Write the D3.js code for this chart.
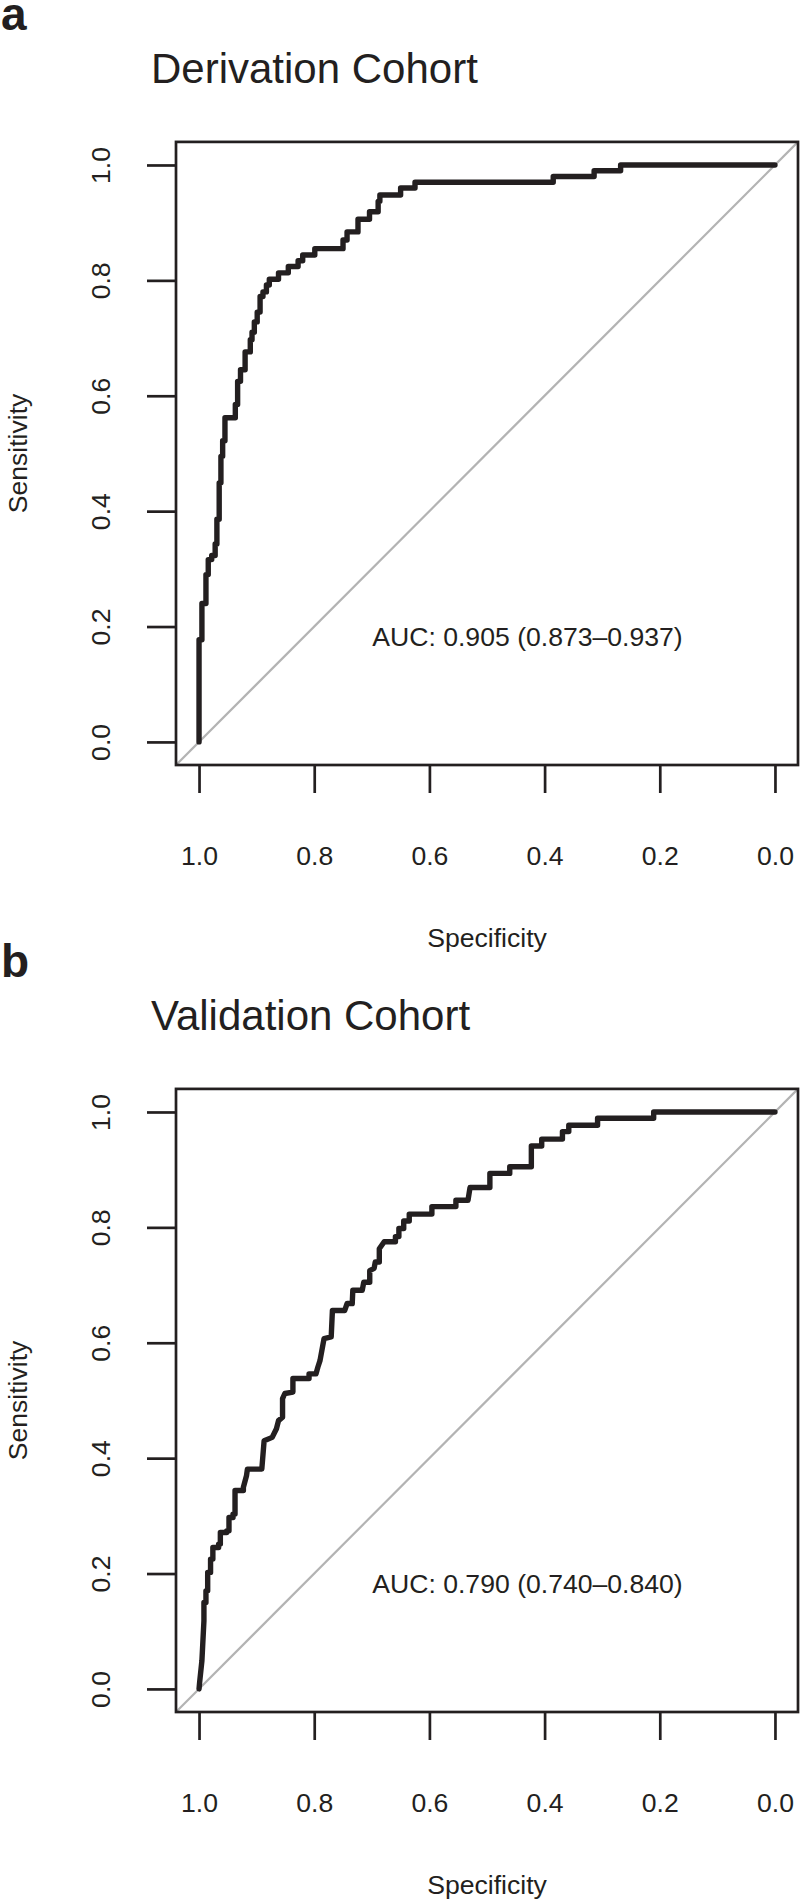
<!DOCTYPE html>
<html>
<head>
<meta charset="utf-8">
<script src="https://cdn.jsdelivr.net/npm/d3@7"></script>
<style>
  html, body { margin: 0; padding: 0; background: #fff; }
  svg { display: block; }
</style>
</head>
<body>
<script>
// ---------- data ----------
const derivationSpec = [1.000,1.000,0.995,0.995,0.988,0.988,0.984,0.984,0.978,0.978,0.972,0.972,0.969,0.969,0.965,0.965,0.962,0.962,0.959,0.959,0.955,0.955,0.937,0.937,0.933,0.933,0.928,0.928,0.920,0.920,0.911,0.911,0.908,0.908,0.904,0.904,0.899,0.899,0.894,0.894,0.889,0.889,0.883,0.883,0.878,0.878,0.862,0.862,0.845,0.845,0.828,0.828,0.820,0.820,0.799,0.799,0.750,0.750,0.743,0.743,0.724,0.724,0.704,0.704,0.689,0.689,0.686,0.686,0.650,0.650,0.625,0.625,0.385,0.385,0.314,0.314,0.268,0.268,0.000];
const derivationSens = [0.000,0.177,0.177,0.240,0.240,0.290,0.290,0.316,0.316,0.323,0.323,0.343,0.343,0.386,0.386,0.449,0.449,0.495,0.495,0.522,0.522,0.562,0.562,0.585,0.585,0.625,0.625,0.645,0.645,0.676,0.676,0.697,0.697,0.710,0.710,0.728,0.728,0.745,0.745,0.772,0.772,0.780,0.780,0.792,0.792,0.802,0.802,0.813,0.813,0.824,0.824,0.834,0.834,0.844,0.844,0.855,0.855,0.870,0.870,0.884,0.884,0.906,0.906,0.919,0.919,0.937,0.937,0.948,0.948,0.960,0.960,0.970,0.970,0.980,0.980,0.990,0.990,1.000,1.000];

const validationSpec = [1.000,0.999,0.995,0.9915,0.9915,0.988,0.988,0.985,0.985,0.980,0.980,0.976,0.976,0.9735,0.966,0.966,0.963,0.963,0.952,0.952,0.948,0.948,0.941,0.941,0.9375,0.9375,0.923,0.923,0.9175,0.916,0.891,0.887,0.873,0.8656,0.862,0.855,0.855,0.851,0.837,0.837,0.809,0.809,0.797,0.7936,0.790,0.783,0.7705,0.7684,0.747,0.743,0.734,0.733,0.7166,0.714,0.7036,0.7036,0.696,0.694,0.687,0.687,0.6785,0.659,0.659,0.653,0.653,0.6446,0.6446,0.635,0.635,0.5957,0.5957,0.554,0.554,0.533,0.5295,0.495,0.495,0.4605,0.4605,0.423,0.423,0.405,0.405,0.369,0.369,0.358,0.358,0.308,0.308,0.2106,0.2106,0.000];
const validationSens = [0.000,0.011,0.049,0.118,0.150,0.150,0.170,0.170,0.202,0.202,0.225,0.225,0.245,0.245,0.245,0.251,0.251,0.271,0.271,0.274,0.274,0.297,0.297,0.303,0.303,0.344,0.344,0.3495,0.370,0.381,0.381,0.430,0.436,0.451,0.465,0.471,0.503,0.512,0.5145,0.538,0.538,0.546,0.546,0.558,0.569,0.607,0.610,0.656,0.656,0.668,0.668,0.691,0.691,0.705,0.705,0.725,0.729,0.740,0.740,0.763,0.775,0.775,0.784,0.784,0.798,0.798,0.811,0.811,0.823,0.823,0.836,0.836,0.847,0.847,0.869,0.869,0.8935,0.8935,0.905,0.905,0.941,0.941,0.953,0.953,0.966,0.966,0.977,0.977,0.989,0.989,1.000,1.000];

const panelLetters = ["a", "b"];
const panelTitles = ["Derivation Cohort", "Validation Cohort"];
const aucLabels = ["AUC: 0.905 (0.873\u20130.937)", "AUC: 0.790 (0.740\u20130.840)"];
const xTickValues = [1.0, 0.8, 0.6, 0.4, 0.2, 0.0];
const yTickValues = [0.0, 0.2, 0.4, 0.6, 0.8, 1.0];
const xAxisTitle = "Specificity";
const yAxisTitle = "Sensitivity";

// ---------- layout / style ----------
const W = 800, H = 1899;
const FONT = "'Liberation Sans', Arial, Helvetica, sans-serif";
const INK = "#231f20";
const panelOffsets = [0, 947];
const box = { left: 176, right: 798, top: 141.9, bottom: 765 };

const svg = d3.select("body").append("svg")
  .attr("width", W).attr("height", H)
  .attr("viewBox", `0 0 ${W} ${H}`);

const x = d3.scaleLinear().domain([1.04, -0.04]).range([box.left, box.right]);

const panels = [
  { spec: derivationSpec, sens: derivationSens },
  { spec: validationSpec, sens: validationSens }
];

panels.forEach((p, k) => {
  const oy = panelOffsets[k];
  const g = svg.append("g").attr("transform", `translate(0,${oy})`)
    .attr("font-family", FONT).attr("fill", INK);

  const y = d3.scaleLinear().domain([-0.04, 1.04]).range([box.bottom, box.top]);

  // panel letter
  g.append("text").attr("x", 1).attr("y", 30)
    .attr("font-size", 46).attr("font-weight", "bold")
    .text(panelLetters[k]);

  // title
  g.append("text").attr("x", 151).attr("y", 83)
    .attr("font-size", 42)
    .text(panelTitles[k]);

  // diagonal reference line
  g.append("line")
    .attr("x1", x(1.04)).attr("y1", y(-0.04))
    .attr("x2", x(-0.04)).attr("y2", y(1.04))
    .attr("stroke", "#b3b3b3").attr("stroke-width", 2.2);

  // ROC curve
  const idx = d3.range(p.spec.length);
  const line = d3.line().x(i => x(p.spec[i])).y(i => y(p.sens[i]));
  g.append("path").attr("d", line(idx))
    .attr("fill", "none").attr("stroke", INK)
    .attr("stroke-width", 5.4)
    .attr("stroke-linejoin", "round").attr("stroke-linecap", "round");

  // box
  g.append("rect")
    .attr("x", box.left).attr("y", box.top)
    .attr("width", box.right - box.left).attr("height", box.bottom - box.top)
    .attr("fill", "none").attr("stroke", INK).attr("stroke-width", 2.7);

  // x axis
  const xa = g.append("g").attr("transform", `translate(0,${box.bottom})`)
    .call(d3.axisBottom(x).tickValues(xTickValues).tickFormat(d3.format(".1f"))
      .tickSize(28).tickPadding(53));
  xa.select(".domain").remove();
  xa.selectAll("line").attr("stroke", INK).attr("stroke-width", 2.7);
  xa.selectAll("text").attr("font-size", 26.6).attr("font-family", FONT).attr("fill", INK);

  // y axis
  const ya = g.append("g").attr("transform", `translate(${box.left},0)`)
    .call(d3.axisLeft(y).tickValues(yTickValues).tickFormat(d3.format(".1f"))
      .tickSize(29));
  ya.select(".domain").remove();
  ya.selectAll("line").attr("stroke", INK).attr("stroke-width", 2.7);
  ya.selectAll("text")
    .attr("font-size", 26.6).attr("font-family", FONT).attr("fill", INK)
    .attr("transform", "rotate(-90)")
    .attr("x", 0).attr("y", -(box.left - 110)).attr("dy", 0)
    .attr("text-anchor", "middle");

  // axis titles
  g.append("text").attr("x", (box.left + box.right) / 2).attr("y", 947)
    .attr("text-anchor", "middle").attr("font-size", 26.6)
    .text(xAxisTitle);
  g.append("text")
    .attr("transform", `translate(27,${(box.top + box.bottom) / 2}) rotate(-90)`)
    .attr("text-anchor", "middle").attr("font-size", 26.6)
    .text(yAxisTitle);

  // AUC annotation
  g.append("text").attr("x", 527.5).attr("y", 646)
    .attr("text-anchor", "middle").attr("font-size", 26.6)
    .text(aucLabels[k]);
});
</script>
</body>
</html>
